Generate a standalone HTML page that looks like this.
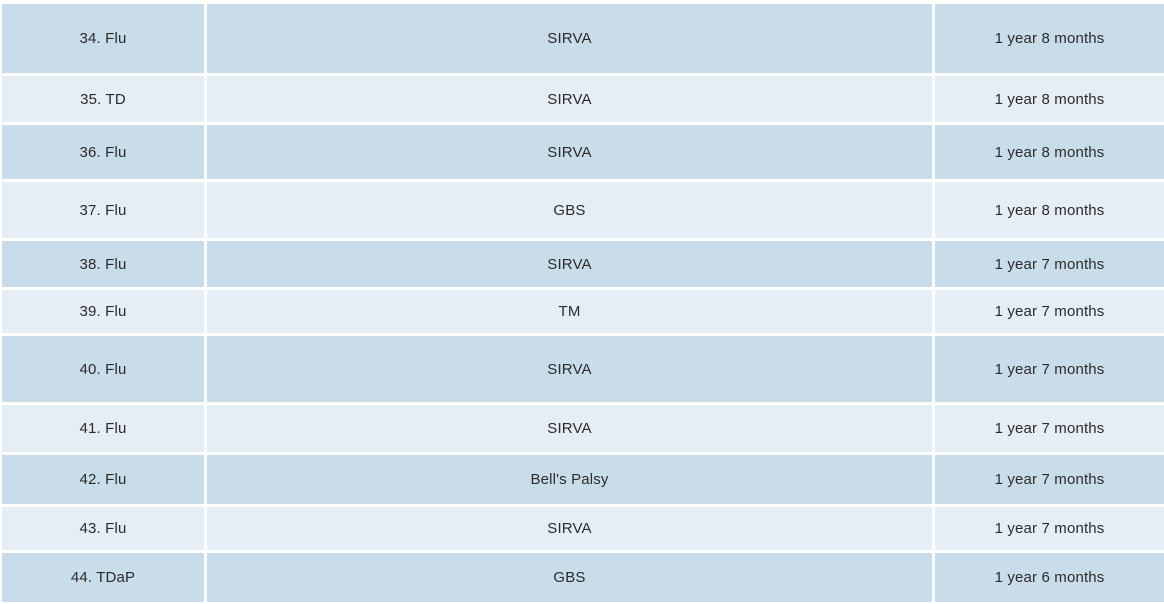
<!DOCTYPE html>
<html><head><style>
body{margin:0;width:1164px;height:604px;background:#fff;position:relative;overflow:hidden;font-family:"Liberation Sans",sans-serif;font-size:15px;letter-spacing:0.15px;color:#2b2b2b}
.c{position:absolute;display:flex;align-items:center;justify-content:center}
.d{background:#c9dcea}.l{background:#e5edf5}
</style></head><body>
<script>
const rows=[[4,73,"34. Flu","SIRVA","1 year 8 months"],[76,122,"35. TD","SIRVA","1 year 8 months"],[125,179,"36. Flu","SIRVA","1 year 8 months"],[182,238,"37. Flu","GBS","1 year 8 months"],[241,287,"38. Flu","SIRVA","1 year 7 months"],[290,333,"39. Flu","TM","1 year 7 months"],[336,402,"40. Flu","SIRVA","1 year 7 months"],[405,452,"41. Flu","SIRVA","1 year 7 months"],[455,504,"42. Flu","Bell's Palsy","1 year 7 months"],[507,550,"43. Flu","SIRVA","1 year 7 months"],[553,602,"44. TDaP","GBS","1 year 6 months"]];
const cols=[[2,204],[207,932],[935,1164]];
let h="";
rows.forEach((r,i)=>{const cl=i%2?"l":"d";cols.forEach((c,j)=>{h+=`<div class="c ${cl}" style="left:${c[0]}px;top:${r[0]}px;width:${c[1]-c[0]}px;height:${r[1]-r[0]}px">${r[2+j]}</div>`;});});
document.body.innerHTML=h;
</script>
</body></html>
